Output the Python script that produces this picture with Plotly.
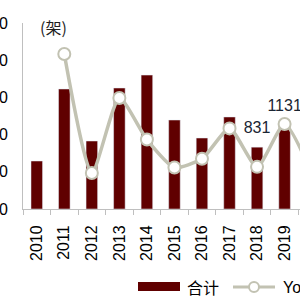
import plotly.graph_objects as go

years = ["2010", "2011", "2012", "2013", "2014", "2015", "2016", "2017", "2018", "2019"]
totals = [645, 1613, 914, 1626, 1800, 1196, 954, 1237, 831, 1131]
yoy_years = ["2010", "2011", "2012", "2013", "2014", "2015", "2016", "2017", "2018", "2019", "2020"]
yoy = [None, 149, -43, 78, 11, -34, -20, 29, -33, 36, -45]
label_years = ["2018", "2019"]
label_values = [831, 1131]

BAR = "#600000"
LINE = "#C2C2B2"
AX = "#BFBFBF"

# plot area in pixels: x 23..300, y 23..209
L, R, T, B = 23, 300, 23, 209
def px(x):
    return (x - L) / (R - L)
def py(y):
    return (B - y) / (B - T)

fig = go.Figure()
fig.add_trace(go.Bar(x=years, y=totals, marker_color=BAR, width=0.42,
                     showlegend=False, yaxis="y"))
fig.add_trace(go.Scatter(x=yoy_years, y=yoy, mode="lines+markers", yaxis="y2",
                         line=dict(color=LINE, width=3.5, shape="spline", smoothing=0.6),
                         marker=dict(size=12, color="white", line=dict(color=LINE, width=2)),
                         showlegend=False, cliponaxis=True))
# data labels for the last two bars
fig.add_trace(go.Scatter(x=label_years, y=label_values, mode="markers+text", yaxis="y",
                         text=[str(v) for v in label_values], textposition="top center",
                         marker=dict(size=14, opacity=0),
                         textfont=dict(family="Liberation Sans, Arial", size=16, color="#1a2533"),
                         showlegend=False, cliponaxis=False, hoverinfo="skip"))

fig.add_annotation(x=px(53), y=py(27), xref="paper", yref="paper", text="(架)",
                   showarrow=False, xanchor="center", yanchor="middle",
                   font=dict(family="Noto Sans CJK SC", size=16, color="#1F1F1F"))

# manual legend
fig.add_shape(type="rect", xref="paper", yref="paper",
              x0=px(138), x1=px(180), y0=py(291), y1=py(282),
              fillcolor=BAR, line=dict(width=0))
fig.add_annotation(x=px(185), y=py(287), xref="paper", yref="paper", text="合计",
                   showarrow=False, xanchor="left", yanchor="middle",
                   font=dict(family="Noto Sans CJK SC", size=16, color="#000"))
fig.add_shape(type="line", xref="paper", yref="paper",
              x0=px(233), x1=px(275), y0=py(287), y1=py(287),
              line=dict(color=LINE, width=3))
fig.add_shape(type="circle", xref="paper", yref="paper",
              x0=px(249), x1=px(259), y0=py(292), y1=py(282),
              fillcolor="white", line=dict(color=LINE, width=2))
fig.add_annotation(x=px(281), y=py(287), xref="paper", yref="paper", text="YoY",
                   showarrow=False, xanchor="left", yanchor="middle",
                   font=dict(family="Liberation Sans, Arial", size=16, color="#000"))

fig.update_layout(
    width=300, height=300,
    margin=dict(l=L, r=300 - R, t=T, b=300 - B, autoexpand=False),
    plot_bgcolor="white", paper_bgcolor="white",
    bargap=0.58,
    xaxis=dict(type="category", range=[-0.5, 9.56], showline=True, linecolor=AX, linewidth=1,
               ticks="outside", tickson="boundaries", ticklen=5, tickcolor=AX,
               tickangle=-90, showgrid=False, automargin=False,
               tickfont=dict(family="Liberation Sans, Arial", size=16, color="#000"),
               ticklabelstandoff=9),
    yaxis=dict(range=[0, 2500], dtick=500, showline=True, linecolor=AX, linewidth=1,
               showgrid=False, zeroline=False, ticks="", automargin=False,
               tickfont=dict(family="Liberation Sans, Arial", size=16, color="#000"),
               ticklabelstandoff=11),
    yaxis2=dict(overlaying="y", side="right", range=[-101, 199], showgrid=False,
                showline=False, zeroline=False, showticklabels=False, ticks="",
                automargin=False),
)

fig.write_html("out.html")
